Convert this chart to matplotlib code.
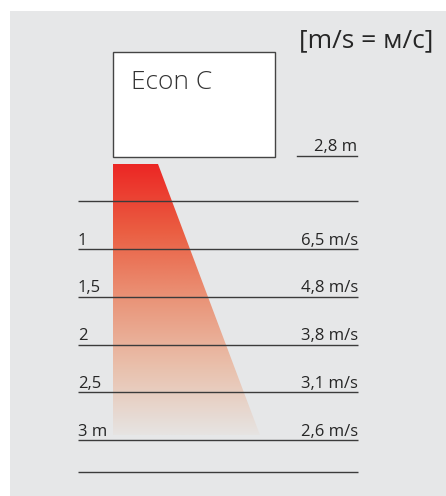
import matplotlib.pyplot as plt
import numpy as np
from matplotlib.patches import Rectangle, Polygon
from matplotlib.colors import LinearSegmentedColormap

plt.rcParams['font.family'] = ['Open Sans', 'DejaVu Sans']

# data
distances = [1, 1.5, 2, 2.5, 3]
dist_labels = ["1", "1,5", "2", "2,5", "3 m"]
speed_labels = ["6,5 m/s", "4,8 m/s", "3,8 m/s", "3,1 m/s", "2,6 m/s"]
extra_lines = [0.5, 3.335]
mount_label = "2,8 m"
unit_label = "[m/s = м/с]"
device_name = "Econ C"

# air jet (distance in m, x in px)
jet_top, jet_bottom = 0.11, 2.95
jet_left, jet_top_right, jet_bottom_right = 113, 158, 260

bg = "#e6e7e8"
line_col = "#3b3b3b"
txt_col = "#262626"

fig = plt.figure(figsize=(4.46, 4.96), dpi=100)
ax = fig.add_axes([0, 0, 1, 1])
ax.set_xlim(0, 446)
ax.set_ylim(3.586, -1.607)
ax.axis("off")

# grey panel
ax.add_patch(Rectangle((10, -1.492), 436, 5.2, facecolor=bg, edgecolor="none", zorder=0))

# gradient jet
stops = [(0.0, (236, 38, 36)), (0.25, (234, 94, 66)), (0.5, (234, 148, 120)),
         (0.75, (233, 192, 172)), (1.0, (230, 228, 226))]
cmap = LinearSegmentedColormap.from_list("jet", [(p, tuple(c / 255 for c in rgb)) for p, rgb in stops])
grad = np.linspace(0, 1, 256).reshape(-1, 1)
im = ax.imshow(grad, cmap=cmap, aspect="auto", zorder=1,
               extent=(jet_left, jet_bottom_right, jet_bottom, jet_top), interpolation="bilinear")
poly = Polygon([(jet_left, jet_top), (jet_top_right, jet_top), (jet_bottom_right, jet_bottom),
                (jet_left, jet_bottom)], closed=True, facecolor="none", edgecolor="none")
ax.add_patch(poly)
im.set_clip_path(poly)

# distance lines
for d in distances + extra_lines:
    ax.plot([78, 358], [d, d], color=line_col, lw=1.0, zorder=2, solid_capstyle="butt")

for d, lab, sp in zip(distances, dist_labels, speed_labels):
    ax.text(78, d - 0.045, lab, fontsize=12, color=txt_col, ha="left", va="baseline", zorder=3)
    ax.text(358, d - 0.045, sp, fontsize=12, color=txt_col, ha="right", va="baseline", zorder=3)

# device box
ax.add_patch(Rectangle((113, -1.063), 162, 1.1, facecolor="white", edgecolor="#444444", lw=1.0, zorder=2))
ax.text(131, -0.68, device_name, fontsize=19, fontweight="light", color="#333333",
        ha="left", va="baseline", zorder=3)

# mounting height
ax.text(357, -0.03, mount_label, fontsize=12, color=txt_col, ha="right", va="baseline", zorder=3)
ax.plot([297, 357], [0.025, 0.025], color=line_col, lw=1.0, zorder=2)

# units
ax.text(433, -1.115, unit_label, fontsize=19, color=txt_col, ha="right", va="baseline", zorder=3)

fig.savefig("out.png", dpi=100)
